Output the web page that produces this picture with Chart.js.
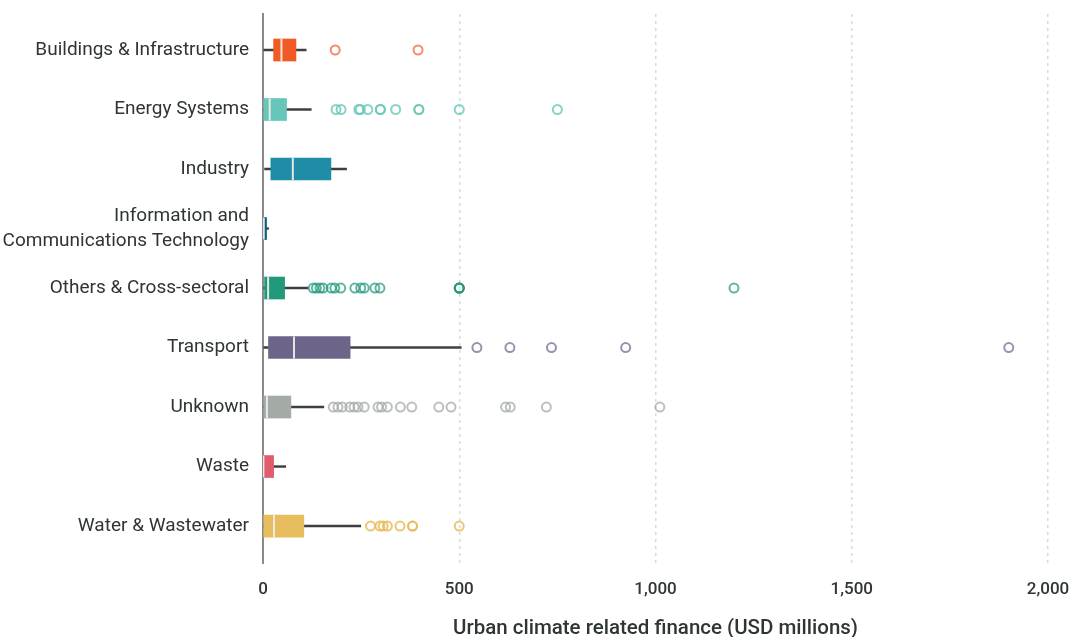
<!DOCTYPE html>
<html>
<head>
<meta charset="utf-8">
<script src="https://cdn.jsdelivr.net/npm/chart.js@4/dist/chart.umd.min.js"></script>
<style>
  html, body { margin: 0; padding: 0; background: #ffffff; }
  #wrap { width: 1070px; height: 637px; position: relative; }
</style>
</head>
<body>
<div id="wrap"><canvas id="c" width="1070" height="637"></canvas></div>
<script>
// ---- Data ----
const categories = [
  'Buildings & Infrastructure',
  'Energy Systems',
  'Industry',
  ['Information and', 'Communications Technology'],
  'Others & Cross-sectoral',
  'Transport',
  'Unknown',
  'Waste',
  'Water & Wastewater'
];
const whiskerLow  = [0, 0, 4, 0, 0, 0, 0, 0, 0];
const q1          = [27, 0, 20, 0, 4, 14, 0, 0, 0];
const medians     = [47, 17, 76, 2, 13, 79, 10, 1, 28];
const q3          = [84, 60, 173, 9, 55, 222, 71, 27, 104];
const whiskerHigh = [110, 123, 213, 14, 115, 505, 155, 58, 249];

const outBuildings = [184, 395];
const outEnergy    = [186, 199, 244, 248, 267, 299, 299, 338, 397, 397, 500, 750];
const outIndustry  = [];
const outICT       = [];
const outOthers    = [128, 136, 145, 153, 174, 183, 198, 234, 249, 258, 285, 298, 500, 500, 500, 500, 1200];
const outTransport = [545, 629, 735, 924, 1900];
const outUnknown   = [179, 191, 202, 221, 232, 242, 258, 293, 302, 317, 350, 379, 448, 479, 618, 630, 722, 1011];
const outWaste     = [];
const outWater     = [274, 298, 306, 317, 349, 381, 381, 500];
const outliers = [outBuildings, outEnergy, outIndustry, outICT, outOthers, outTransport, outUnknown, outWaste, outWater];

const xTicks = [0, 500, 1000, 1500, 2000];

// ---- Styles ----
const boxColors = ['#f15a24', '#66c6b9', '#1f8ca8', '#0e5f80', '#22997a', '#6d6489', '#a4aba7', '#e05b6c', '#e8bd5d'];
const outColors = ['rgba(241,110,70,0.8)', 'rgba(102,198,185,0.78)', 'rgba(31,140,168,0.75)', 'rgba(14,95,128,0.75)',
                   'rgba(34,153,122,0.72)', 'rgba(109,100,137,0.7)', 'rgba(164,171,167,0.75)', 'rgba(224,91,108,0.75)', 'rgba(232,189,93,0.85)'];
const textColor = '#2f3536';
const FONT = 'Roboto, "DejaVu Sans", sans-serif';

// ---- Build datasets ----
const whiskerData = categories.map((c, i) => ({ y: i, x: [whiskerLow[i], whiskerHigh[i]] }));
const boxData = categories.map((c, i) => ({ y: i, x: [q1[i], q3[i]] }));
const medianData = categories.map((c, i) => ({ y: i, x: medians[i] }));

const outlierSets = [];
outliers.forEach((arr, i) => {
  if (!arr.length) return;
  outlierSets.push({
    type: 'scatter',
    label: 'out' + i,
    data: arr.map(v => ({ x: v, y: i })),
    borderColor: outColors[i],
    backgroundColor: 'rgba(0,0,0,0)',
    borderWidth: 2,
    pointRadius: 4.5,
    pointHoverRadius: 4.5,
    order: 1
  });
});

const datasets = [
  {
    type: 'bar',
    label: 'whisker',
    data: whiskerData,
    backgroundColor: '#3b4141',
    barThickness: 1.8,
    grouped: false,
    order: 5
  },
  {
    type: 'bar',
    label: 'box',
    data: boxData,
    backgroundColor: boxColors,
    barThickness: 22,
    grouped: false,
    order: 4
  },
  {
    type: 'scatter',
    label: 'median',
    data: medianData,
    pointStyle: 'line',
    rotation: 90,
    pointRadius: 11,
    pointHoverRadius: 11,
    borderColor: 'rgba(238,236,232,0.95)',
    borderWidth: 2,
    order: 3
  },
  ...outlierSets
];

new Chart(document.getElementById('c'), {
  type: 'bar',
  data: { datasets },
  options: {
    indexAxis: 'y',
    responsive: false,
    animation: false,
    events: [],
    layout: { padding: { top: 14, right: 22, left: 0, bottom: 0 } },
    plugins: { legend: { display: false }, tooltip: { enabled: false }, title: { display: false } },
    scales: {
      x: {
        type: 'linear',
        min: 0,
        max: 2000,
        offset: false,
        afterBuildTicks: (scale) => { scale.ticks = xTicks.map(v => ({ value: v })); },
        afterFit: (scale) => { scale.height = 74; scale.paddingLeft = 0; scale.paddingRight = 0; },
        grid: {
          color: (ctx) => ctx.tick && ctx.tick.value === 0 ? 'rgba(0,0,0,0)' : '#d9d9d9',
          lineWidth: 1.5,
          drawTicks: false
        },
        border: { display: false, dash: [3, 4] },
        ticks: {
          padding: 17,
          color: textColor,
          font: { family: FONT, size: 17, weight: '500' },
          callback: (v) => Number(v).toLocaleString('en-US')
        },
        title: {
          display: true,
          text: 'Urban climate related finance (USD millions)',
          color: textColor,
          font: { family: FONT, size: 20.5, weight: '500' },
          padding: { top: 0, bottom: -4 }
        }
      },
      y: {
        type: 'linear',
        reverse: true,
        offset: false,
        min: -0.605,
        max: 8.621,
        afterBuildTicks: (scale) => { scale.ticks = categories.map((c, i) => ({ value: i })); },
        afterFit: (scale) => { scale.width = 263; scale.paddingTop = 0; scale.paddingBottom = 0; },
        grid: { display: false, drawTicks: false },
        border: { display: true, color: '#8a8a8a', width: 2 },
        ticks: {
          padding: 14,
          color: textColor,
          font: { family: FONT, size: 19, lineHeight: 1.3 },
          callback: (v) => categories[v] !== undefined ? categories[v] : ''
        }
      }
    }
  }
});
</script>
</body>
</html>
